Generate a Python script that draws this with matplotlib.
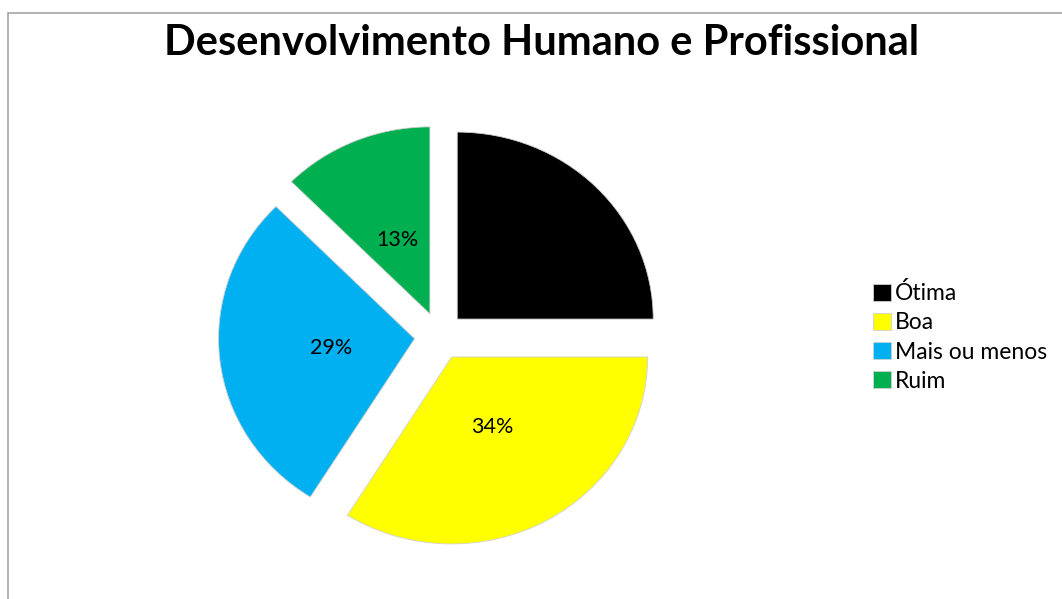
import matplotlib.pyplot as plt
from matplotlib.patches import Rectangle

# respostas por categoria
categorias = ["Ótima", "Boa", "Mais ou menos", "Ruim"]
respostas = [14, 19, 16, 7]
cores = ["#000000", "#ffff00", "#00b0f0", "#00b050"]

titulo = "Desenvolvimento Humano e Profissional"

plt.rcParams["font.family"] = ["Lato", "DejaVu Sans"]

fig = plt.figure(figsize=(10.62, 5.99), dpi=100)

# borda da área do gráfico (só aparece topo e esquerda)
fig.patches.append(Rectangle((8 / 1062, -0.2), 1.3, 1.2 - 13 / 599,
                             transform=fig.transFigure, fill=False,
                             edgecolor="#a6a6a6", linewidth=1.2))

W, H = 1062, 599
cx, cy = 439.5, 599 - 336
rx, ry = 196, 187
lim = 1.3
ax = fig.add_axes([(cx - lim * rx) / W, (cy - lim * ry) / H, 2 * lim * rx / W, 2 * lim * ry / H])


def pct(p):
    return "{}%".format(int(p + 0.5))


wedges, textos, pcts = ax.pie(respostas, colors=cores, startangle=90, counterclock=False,
                              explode=[0.128] * 4, autopct=pct, pctdistance=0.43,
                              wedgeprops=dict(edgecolor="#d0d0d0", linewidth=0.6),
                              textprops=dict(fontsize=15.5, color="#000000"))
ax.set_xlim(-lim, lim)
ax.set_ylim(-lim, lim)
ax.set_aspect("auto")
ax.axis("off")

fig.text(542 / W, 1 - 43 / H, titulo, ha="center", va="center",
         fontsize=30, fontweight="bold")

fig.legend(wedges, categorias, loc="center left", bbox_to_anchor=(862 / W, 1 - 337 / H),
           frameon=False, fontsize=16.5, handlelength=0.75, handleheight=0.75,
           handletextpad=0.2, labelspacing=0.35, borderpad=0)

fig.savefig("out.png", dpi=100)
